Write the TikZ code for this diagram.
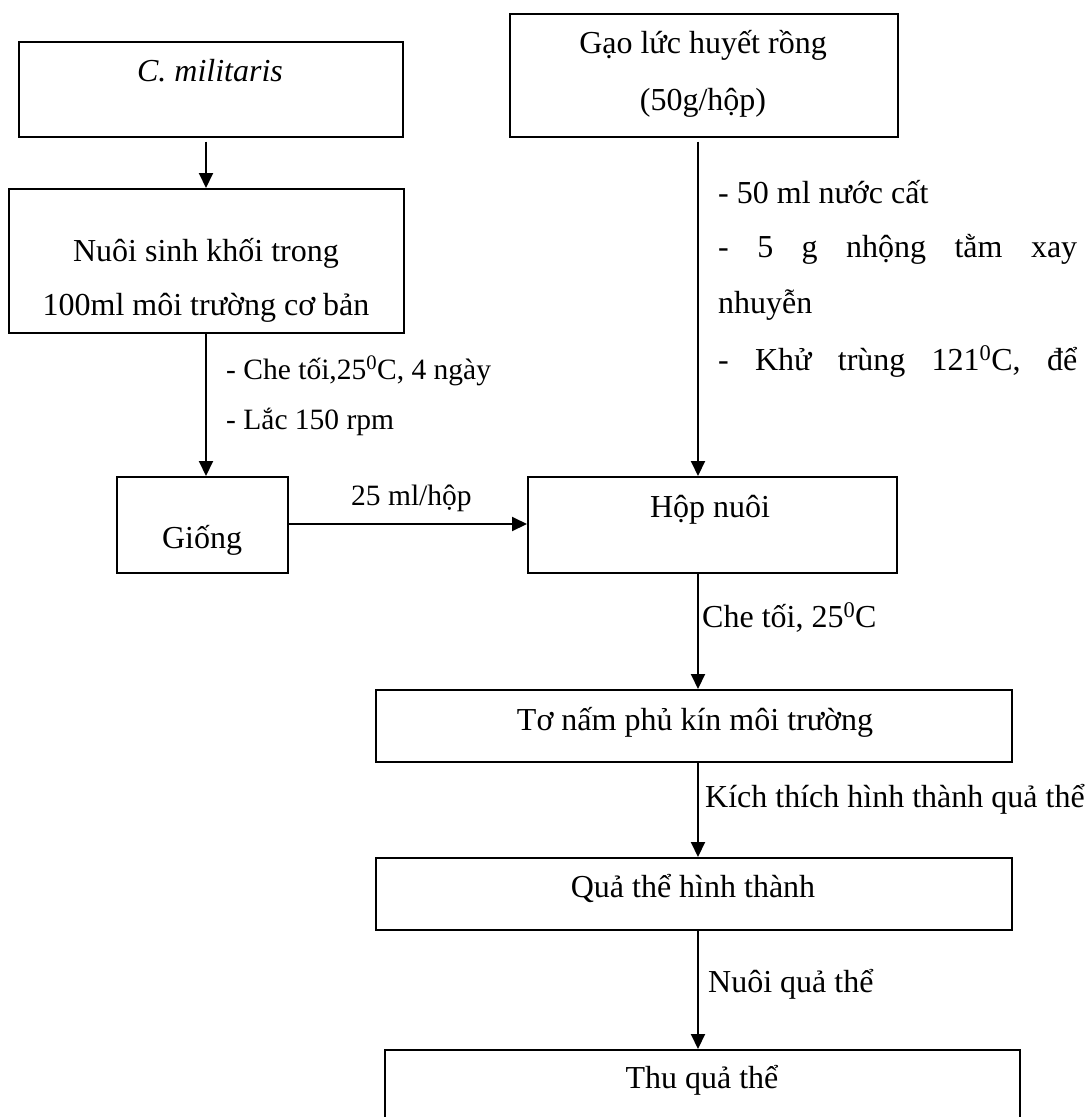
\documentclass[tikz,border=0pt]{standalone}
\usepackage{fontspec}
\setmainfont{Liberation Serif}
\usetikzlibrary{arrows.meta}
\begin{document}
\begin{tikzpicture}[x=1pt,y=-1pt,
  box/.style={draw, line width=1.5pt, inner sep=0pt, anchor=north west},
  txt/.style={inner sep=0pt, anchor=base, font=\fontsize{32}{38}\selectfont},
  lbl/.style={inner sep=0pt, anchor=base west, font=\fontsize{32}{38}\selectfont},
  slbl/.style={inner sep=0pt, anchor=base west, font=\fontsize{29.5}{35}\selectfont},
  arr/.style={line width=2pt, -{Triangle[length=15pt,width=14pt]}}]
\fill[white] (0,0) rectangle (1086,1117);
\useasboundingbox (0,0) rectangle (1086,1117);
\clip (0,0) rectangle (1086,1117);

% boxes
\node[box, minimum width=384pt, minimum height=95pt]  (c)     at (18,41)    {};
\node[box, minimum width=395pt, minimum height=144pt] (nuoi)  at (8,188)    {};
\node[box, minimum width=171pt, minimum height=96pt]  (giong) at (116,476)  {};
\node[box, minimum width=388pt, minimum height=123pt] (gao)   at (509,13)   {};
\node[box, minimum width=369pt, minimum height=96pt]  (hop)   at (527,476)  {};
\node[box, minimum width=636pt, minimum height=72pt]  (to)    at (375,689)  {};
\node[box, minimum width=636pt, minimum height=72pt]  (qua)   at (375,857)  {};
\node[box, minimum width=635pt, minimum height=100pt] (thu)   at (384,1049) {};

% box texts
\node[txt] (ct)  at (210,81)   {\itshape C. militaris};
\node[txt] (nt1) at (206,261)  {Nuôi sinh khối trong};
\node[txt] (nt2) at (206,315)  {100ml môi trường cơ bản};
\node[txt] (gt)  at (202,548)  {Giống};
\node[txt] (gat1) at (703,53)  {Gạo lức huyết rồng};
\node[txt] (gat2) at (703,110) {(50g/hộp)};
\node[txt] (ht)  at (710,517)  {Hộp nuôi};
\node[txt] (tt)  at (695,730)  {Tơ nấm phủ kín môi trường};
\node[txt] (qt)  at (693,897)  {Quả thể hình thành};
\node[txt] (tht) at (702,1088) {Thu quả thể};

% connector labels
\node[slbl] (la1) at (226,379) {- Che tối,25\textsuperscript{0}C, 4 ngày};
\node[slbl] (la2) at (226,429) {- Lắc 150 rpm};
\node[slbl] (lb)  at (351,505) {25 ml/hộp};
\node[lbl] (lr1) at (718,203) {- 50 ml nước cất};
\node[lbl] (lr2) at (718,257) {\makebox[359pt][s]{- 5 g nhộng tằm xay}};
\node[lbl] (lr3) at (718,313) {nhuyễn};
\node[lbl] (lr4) at (718,370) {\makebox[359pt][s]{- Khử trùng 121\textsuperscript{0}C, để}};
\node[lbl] (lc)  at (702,627) {Che tối, 25\textsuperscript{0}C};
\node[lbl] (lk)  at (705,807) {Kích thích hình thành quả thể};
\node[lbl] (ln)  at (708,992) {Nuôi quả thể};

% connectors
\coordinate (xl) at (206,0);
\coordinate (xr) at (698,0);
\coordinate (ya) at (0,524);
\draw[arr] ([yshift=-4pt]c.south -| xl) -- (nuoi.north -| xl);
\draw[arr] (nuoi.south -| xl) -- (giong.north -| xl);
\draw[arr] ([yshift=-4pt]gao.south -| xr) -- (hop.north -| xr);
\draw[arr] (giong.east |- ya) -- (hop.west |- ya);
\draw[arr] (hop.south -| xr) -- (to.north -| xr);
\draw[arr] (to.south -| xr) -- (qua.north -| xr);
\draw[arr] (qua.south -| xr) -- (thu.north -| xr);
\end{tikzpicture}
\end{document}
